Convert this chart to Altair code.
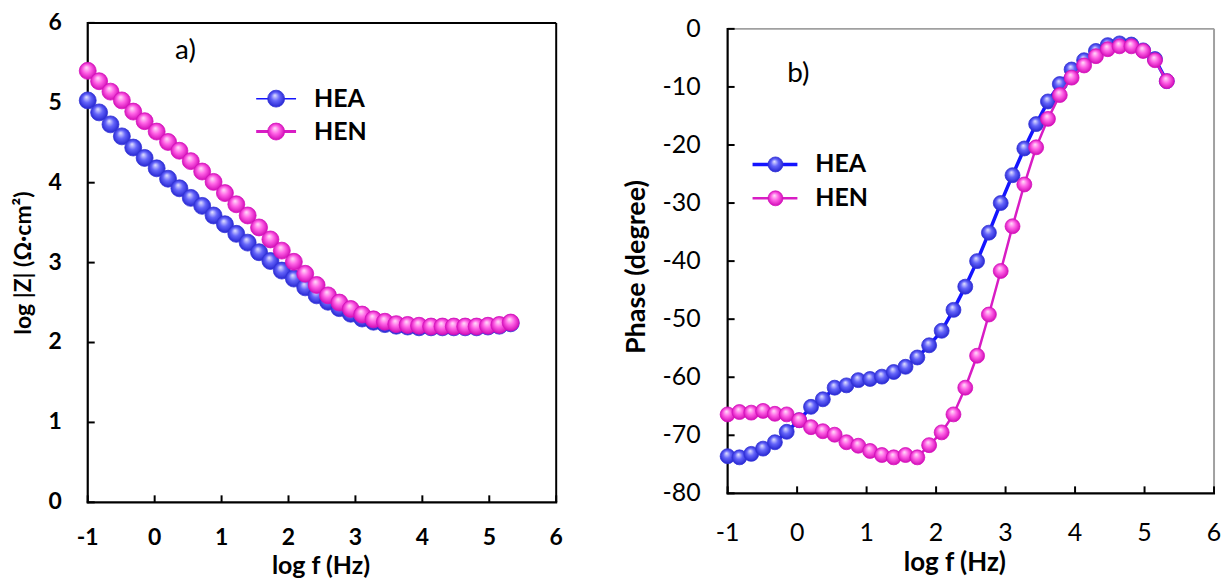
import altair as alt
import pandas as pd

# ---------------- data ----------------
LOG_F = [-1.00, -0.83, -0.66, -0.49, -0.32, -0.15, 0.03, 0.20, 0.37, 0.54,
         0.71, 0.88, 1.05, 1.22, 1.39, 1.56, 1.73, 1.90, 2.08, 2.25,
         2.42, 2.59, 2.76, 2.93, 3.10, 3.27, 3.44, 3.61, 3.78, 3.95,
         4.13, 4.30, 4.47, 4.64, 4.81, 4.98, 5.15, 5.32]

MOD_HEA = [5.03, 4.88, 4.73, 4.58, 4.44, 4.31, 4.18, 4.05, 3.93, 3.81,
           3.71, 3.59, 3.48, 3.36, 3.25, 3.13, 3.02, 2.90, 2.80, 2.69,
           2.59, 2.51, 2.43, 2.36, 2.30, 2.26, 2.23, 2.21, 2.20, 2.19,
           2.19, 2.19, 2.19, 2.19, 2.19, 2.20, 2.21, 2.24]
MOD_HEN = [5.40, 5.27, 5.14, 5.03, 4.89, 4.77, 4.64, 4.51, 4.40, 4.27,
           4.14, 4.01, 3.87, 3.73, 3.59, 3.44, 3.29, 3.15, 3.01, 2.86,
           2.72, 2.59, 2.50, 2.42, 2.35, 2.29, 2.26, 2.23, 2.22, 2.21,
           2.20, 2.20, 2.20, 2.20, 2.20, 2.21, 2.22, 2.25]

PH_HEA = [-73.6, -73.8, -73.2, -72.3, -71.2, -69.4, -67.4, -65.1, -63.8, -61.8,
          -61.4, -60.5, -60.3, -59.9, -59.1, -58.2, -56.6, -54.5, -52.0, -48.4,
          -44.4, -40.0, -35.1, -30.0, -25.2, -20.6, -16.4, -12.5, -9.5, -7.0,
          -5.4, -3.8, -2.8, -2.5, -2.7, -3.7, -5.2, -9.0]
PH_HEN = [-66.4, -66.0, -66.1, -65.8, -66.3, -66.4, -67.4, -68.6, -69.3, -69.9,
          -71.2, -71.8, -72.7, -73.4, -73.8, -73.4, -73.8, -71.7, -69.5, -66.4,
          -61.8, -56.3, -49.2, -41.7, -34.0, -26.8, -20.4, -15.5, -11.4, -8.4,
          -6.3, -4.7, -3.5, -3.0, -3.0, -3.8, -5.4, -9.0]

SERIES = ["HEA", "HEN"]
X_TICKS = [-1, 0, 1, 2, 3, 4, 5, 6]
X_TICK_LABELS = ["-1", "0", "1", "2", "3", "4", "5", "6"]
Z_TICKS = [0, 1, 2, 3, 4, 5, 6]
Z_TICK_LABELS = ["0", "1", "2", "3", "4", "5", "6"]
PH_TICKS = [-80, -70, -60, -50, -40, -30, -20, -10, 0]
PH_TICK_LABELS = ["-80", "-70", "-60", "-50", "-40", "-30", "-20", "-10", "0"]

X_TITLE = "log f (Hz)"
Z_TITLE = "log |Z| (\u03a9\u00b7cm\u00b2)"
PH_TITLE = "Phase (degree)"

FONT = "Lato"

# ---------------- styles ----------------
def sphere(light, mid, dark):
    return alt.RadialGradient(
        gradient="radial", x1=0.42, y1=0.3, r1=0.0, x2=0.5, y2=0.5, r2=0.55,
        stops=[alt.GradientStop(offset=0.0, color=light),
               alt.GradientStop(offset=0.45, color=mid),
               alt.GradientStop(offset=1.0, color=dark)])

STYLE = {
    "HEA": dict(fill=sphere("#e6e6ff", "#6464fa", "#1e1ecc"), stroke="#3434d8",
                line="#1414ff"),
    "HEN": dict(fill=sphere("#ffe2f9", "#ff62e6", "#cc00b0"), stroke="#d410bc",
                line="#d81cc4"),
}

one = pd.DataFrame({"k": [0]})


def panel(cfg):
    W, H = cfg["W"], cfg["H"]
    y_top, y_bot = cfg["yrange"][1], cfg["yrange"][0]
    xs = alt.Scale(domain=[-1, 6], nice=False, zero=False)
    ys = alt.Scale(domain=cfg["ydom"], range=cfg["yrange"], nice=False, zero=False)
    X = lambda f: alt.X(f, scale=xs, axis=None)
    Y = lambda f: alt.Y(f, scale=ys, axis=None)
    weight = "bold" if cfg["bold"] else "normal"
    layers = []
    # frame: top / right (light or dark), left / bottom axis lines (black)
    layers.append(alt.Chart(pd.DataFrame({"t": [cfg["ydom"][1]]})).mark_rule(
        color=cfg["frame"], strokeWidth=2).encode(
        y=Y("t:Q"), x=alt.value(0), x2=alt.value(W)))
    layers.append(alt.Chart(pd.DataFrame({"t": [6]})).mark_rule(
        color=cfg["frame"], strokeWidth=2).encode(
        x=X("t:Q"), y=alt.value(y_top), y2=alt.value(y_bot)))
    layers.append(alt.Chart(pd.DataFrame({"t": [-1]})).mark_rule(
        color="black", strokeWidth=2.2).encode(
        x=X("t:Q"), y=alt.value(y_top - 1), y2=alt.value(y_bot + 1)))
    layers.append(alt.Chart(pd.DataFrame({"t": [cfg["ydom"][0]]})).mark_rule(
        color="black", strokeWidth=2.2).encode(
        y=Y("t:Q"), x=alt.value(-1), x2=alt.value(W + 1)))
    # inward tick marks
    xt = pd.DataFrame({"t": X_TICKS, "lab": X_TICK_LABELS})
    yt = pd.DataFrame({"t": cfg["yticks"], "lab": cfg["ylabels"]})
    layers.append(alt.Chart(xt).mark_rule(color="black", strokeWidth=2).encode(
        x=X("t:Q"), y=alt.value(H), y2=alt.value(H - 7)))
    layers.append(alt.Chart(yt).mark_rule(color="black", strokeWidth=2).encode(
        y=Y("t:Q"), x=alt.value(0), x2=alt.value(7)))
    # series
    for s in SERIES:
        df = pd.DataFrame({"logf": LOG_F, "v": cfg["vals"][s]})
        st = STYLE[s]
        layers.append(alt.Chart(df).mark_line(color=st["line"], strokeWidth=cfg["lw"][s])
                      .encode(x=X("logf:Q"), y=Y("v:Q")))
        layers.append(alt.Chart(df).mark_circle(fill=st["fill"], stroke=st["stroke"],
                                                strokeWidth=0.8, size=cfg["msize"],
                                                opacity=1)
                      .encode(x=X("logf:Q"), y=Y("v:Q")))
    # tick labels
    layers.append(alt.Chart(xt).mark_text(font=FONT, fontSize=cfg["tfs"], fontWeight=weight,
                                          align="center", baseline="middle",
                                          color="black").encode(
        x=X("t:Q"), y=alt.value(cfg["xlab_y"]), text=alt.Text("lab:N")))
    layers.append(alt.Chart(yt).mark_text(font=FONT, fontSize=cfg["tfs"], fontWeight=weight,
                                          align="right", baseline="middle",
                                          color="black").encode(
        y=Y("t:Q"), x=alt.value(cfg["ylab_x"]), text=alt.Text("lab:N")))
    # axis titles
    layers.append(alt.Chart(one).mark_text(text=X_TITLE, font=FONT, fontSize=cfg["xtfs"],
                                           fontWeight="bold", align="center",
                                           baseline="middle", color="black")
                  .encode(x=alt.value(cfg["xt_pos"][0]), y=alt.value(cfg["xt_pos"][1])))
    layers.append(alt.Chart(one).mark_text(text=cfg["ytitle"], font=FONT,
                                           fontSize=cfg["ytfs"], fontWeight="bold",
                                           align="center", baseline="middle",
                                           angle=270, color="black")
                  .encode(x=alt.value(cfg["yt_pos"][0]), y=alt.value(cfg["yt_pos"][1])))
    # legend
    lx1, lx2, cx, tx = cfg["leg_x"]
    for s, yy in zip(SERIES, cfg["leg_y"]):
        st = STYLE[s]
        layers.append(alt.Chart(one).mark_rule(color=st["line"],
                                               strokeWidth=cfg["leg_lw"][s])
                      .encode(x=alt.value(lx1), x2=alt.value(lx2), y=alt.value(yy)))
        layers.append(alt.Chart(one).mark_circle(fill=st["fill"], stroke=st["stroke"],
                                                 strokeWidth=0.8, size=cfg["msize"],
                                                 opacity=1)
                      .encode(x=alt.value(cx), y=alt.value(yy)))
        layers.append(alt.Chart(one).mark_text(text=s, font=FONT, fontSize=25,
                                               fontWeight="bold", align="left",
                                               baseline="middle", color="black")
                      .encode(x=alt.value(tx), y=alt.value(yy)))
    ltext, lxp, lyp = cfg["label"]
    layers.append(alt.Chart(one).mark_text(text=ltext, font=FONT, fontSize=28,
                                           align="center", baseline="middle",
                                           color="black")
                  .encode(x=alt.value(lxp), y=alt.value(lyp)))
    return alt.layer(*layers).properties(
        width=W, height=H,
        view=alt.ViewBackground(stroke="transparent", fill="white"))


left = panel(dict(
    vals={"HEA": MOD_HEA, "HEN": MOD_HEN}, ydom=[0, 6], yrange=[481, 0],
    yticks=Z_TICKS, ylabels=Z_TICK_LABELS, ytitle=Z_TITLE, bold=True,
    W=470, H=481, msize=289, lw={"HEA": 1.2, "HEN": 1.2}, frame="black",
    tfs=23, xtfs=25, ytfs=23,
    xlab_y=517, ylab_x=-26, xt_pos=(234, 545), yt_pos=(-64, 241),
    leg_x=(169, 209, 189, 227), leg_y=[76, 109], leg_lw={"HEA": 1.5, "HEN": 3},
    label=("a)", 98, 28)))

right = panel(dict(
    vals={"HEA": PH_HEA, "HEN": PH_HEN}, ydom=[-80, 0], yrange=[472, 6],
    yticks=PH_TICKS, ylabels=PH_TICK_LABELS, ytitle=PH_TITLE, bold=False,
    W=488, H=472, msize=225, lw={"HEA": 3.5, "HEN": 2.5}, frame="#a0a0a0",
    tfs=25, xtfs=26, ytfs=27,
    xlab_y=512, ylab_x=-27, xt_pos=(228, 542), yt_pos=(-91, 245),
    leg_x=(25, 70, 48, 88), leg_y=[142, 176], leg_lw={"HEA": 3.5, "HEN": 2.5},
    label=("b)", 71, 51)))

chart = alt.hconcat(left, right, spacing=58).properties(
    padding={"left": 4, "top": 2, "right": 2, "bottom": 0}
).configure(font=FONT)

chart.save("out.html", embed_options={"renderer": "svg", "actions": False})
